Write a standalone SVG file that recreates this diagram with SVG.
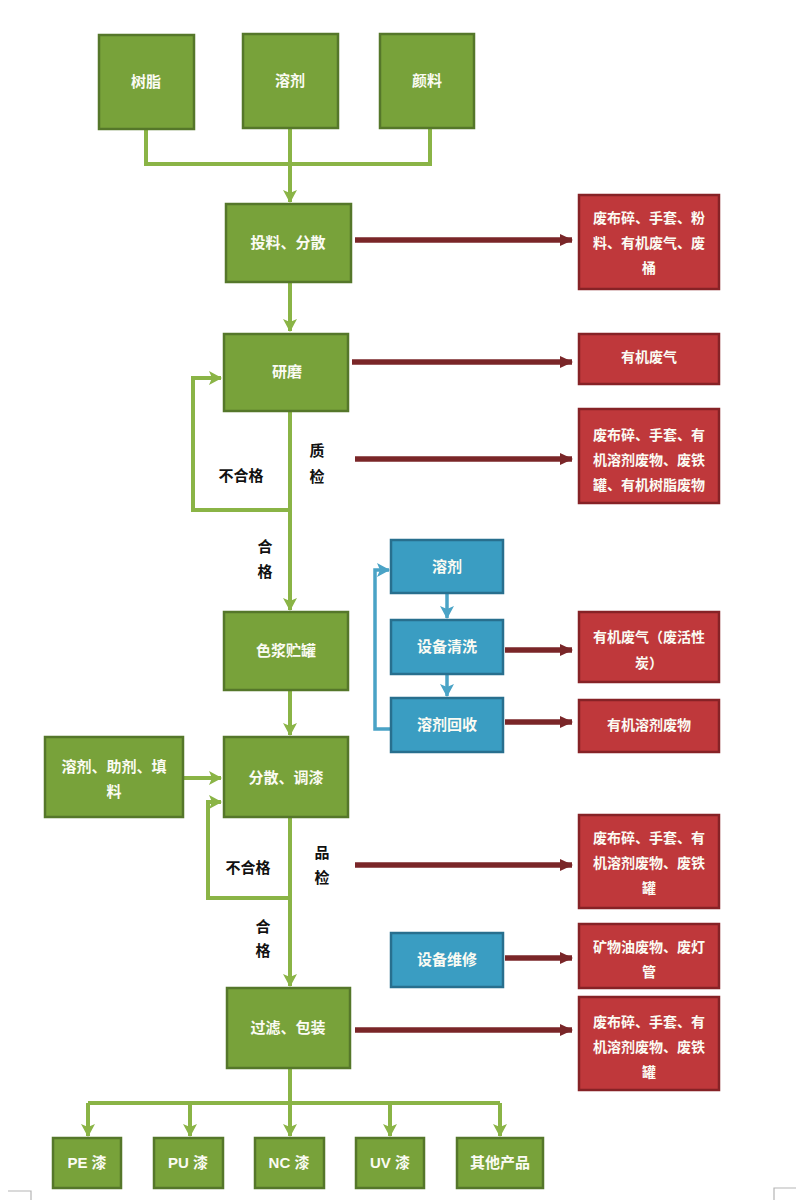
<svg xmlns="http://www.w3.org/2000/svg" width="796" height="1200" viewBox="0 0 796 1200">
<defs>
<style>
.g{fill:#78a23a;stroke:#55772a;stroke-width:2.5}
.r{fill:#bf383b;stroke:#862226;stroke-width:2.5}
.b{fill:#3a9dc2;stroke:#286f8e;stroke-width:2.5}
.t{font-family:"Liberation Sans","Noto Sans CJK SC",sans-serif;font-weight:bold;fill:#fbfbf3;text-anchor:middle}
.tg{font-size:15px}
.tr{font-size:14px}
.lbl{font-family:"Liberation Sans","Noto Sans CJK SC",sans-serif;font-weight:bold;font-size:15px;fill:#111}
.cg{fill:none;stroke:#8ab446;stroke-width:4}
.cb{fill:none;stroke:#4aa3c6;stroke-width:3.5}
.cr{fill:none;stroke:#7a2628;stroke-width:5.5}
</style>
<marker id="ag" markerUnits="userSpaceOnUse" markerWidth="16" markerHeight="16" refX="12" refY="7" orient="auto">
<path d="M0,0 L13,7 L0,14 L3,7 Z" fill="#8ab446"/>
</marker>
<marker id="ab" markerUnits="userSpaceOnUse" markerWidth="16" markerHeight="16" refX="12" refY="7" orient="auto">
<path d="M0,0 L13,7 L0,14 L3,7 Z" fill="#4aa3c6"/>
</marker>
<marker id="ar" markerUnits="userSpaceOnUse" markerWidth="16" markerHeight="16" refX="12" refY="7" orient="auto">
<path d="M0,1 L13,7 L0,13 Z" fill="#7a2628"/>
</marker>
</defs>
<rect width="796" height="1200" fill="#ffffff"/>

<g id="connectors">
<path class="cg" d="M146,129 V164 H430 V128"/>
<path class="cg" d="M290,128 V202" marker-end="url(#ag)"/>
<path class="cg" d="M290,282 V331" marker-end="url(#ag)"/>
<path class="cg" d="M290,411 V610" marker-end="url(#ag)"/>
<path class="cg" d="M290,510 H193 V378 H221" marker-end="url(#ag)"/>
<path class="cg" d="M290,690 V735" marker-end="url(#ag)"/>
<path class="cg" d="M183,778 H221" marker-end="url(#ag)"/>
<path class="cg" d="M290,817 V986" marker-end="url(#ag)"/>
<path class="cg" d="M290,898 H208 V802 H221" marker-end="url(#ag)"/>
<path class="cg" d="M290,1068 V1103 M88,1103 H500"/>
<path class="cg" d="M88,1103 V1136" marker-end="url(#ag)"/>
<path class="cg" d="M190,1103 V1136" marker-end="url(#ag)"/>
<path class="cg" d="M290,1103 V1136" marker-end="url(#ag)"/>
<path class="cg" d="M390,1103 V1136" marker-end="url(#ag)"/>
<path class="cg" d="M500,1103 V1136" marker-end="url(#ag)"/>
<path class="cb" d="M447,593 V618" marker-end="url(#ab)"/>
<path class="cb" d="M447,674 V696" marker-end="url(#ab)"/>
<path class="cb" d="M391,729 H375 V570 H389" marker-end="url(#ab)"/>
<path class="cr" d="M355,240 H572" marker-end="url(#ar)"/>
<path class="cr" d="M352,362 H572" marker-end="url(#ar)"/>
<path class="cr" d="M355,459 H572" marker-end="url(#ar)"/>
<path class="cr" d="M505,650 H572" marker-end="url(#ar)"/>
<path class="cr" d="M505,722 H572" marker-end="url(#ar)"/>
<path class="cr" d="M355,865 H572" marker-end="url(#ar)"/>
<path class="cr" d="M505,958 H572" marker-end="url(#ar)"/>
<path class="cr" d="M355,1030 H572" marker-end="url(#ar)"/>
</g>

<g id="labels">
<text class="lbl" x="241" y="481" text-anchor="middle">不合格</text>
<text class="lbl" x="317" y="456" text-anchor="middle">质</text>
<text class="lbl" x="317" y="482" text-anchor="middle">检</text>
<text class="lbl" x="265" y="552" text-anchor="middle">合</text>
<text class="lbl" x="265" y="577" text-anchor="middle">格</text>
<text class="lbl" x="248" y="873" text-anchor="middle">不合格</text>
<text class="lbl" x="322" y="858" text-anchor="middle">品</text>
<text class="lbl" x="322" y="883" text-anchor="middle">检</text>
<text class="lbl" x="263" y="932" text-anchor="middle">合</text>
<text class="lbl" x="263" y="956" text-anchor="middle">格</text>
</g>

<g id="n-shuzhi"><rect class="g" x="99" y="35" width="95" height="94"/><text class="t tg" x="146" y="87">树脂</text></g>
<g id="n-rongji"><rect class="g" x="243" y="34" width="95" height="94"/><text class="t tg" x="290" y="86">溶剂</text></g>
<g id="n-yanliao"><rect class="g" x="380" y="34" width="94" height="94"/><text class="t tg" x="427" y="86">颜料</text></g>
<g id="n-touliao"><rect class="g" x="226" y="204" width="125" height="78"/><text class="t tg" x="288" y="248">投料、分散</text></g>
<g id="n-yanmo"><rect class="g" x="224" y="334" width="124" height="77"/><text class="t tg" x="287" y="377">研磨</text></g>
<g id="n-sejiang"><rect class="g" x="224" y="612" width="124" height="78"/><text class="t tg" x="286" y="656">色浆贮罐</text></g>
<g id="n-fuji"><rect class="g" x="45" y="737" width="138" height="80"/><text class="t tg" x="114" y="772">溶剂、助剂、填</text><text class="t tg" x="114" y="797">料</text></g>
<g id="n-tiaoqi"><rect class="g" x="224" y="737" width="124" height="80"/><text class="t tg" x="286" y="783">分散、调漆</text></g>
<g id="n-guolv"><rect class="g" x="227" y="988" width="123" height="80"/><text class="t tg" x="288" y="1033">过滤、包装</text></g>
<g id="n-pe"><rect class="g" x="53" y="1138" width="68" height="50"/><text class="t tg" x="87" y="1168">PE 漆</text></g>
<g id="n-pu"><rect class="g" x="154" y="1138" width="69" height="50"/><text class="t tg" x="188" y="1168">PU 漆</text></g>
<g id="n-nc"><rect class="g" x="255" y="1138" width="69" height="50"/><text class="t tg" x="289" y="1168">NC 漆</text></g>
<g id="n-uv"><rect class="g" x="356" y="1138" width="68" height="50"/><text class="t tg" x="390" y="1168">UV 漆</text></g>
<g id="n-other"><rect class="g" x="457" y="1138" width="86" height="50"/><text class="t tg" x="500" y="1168">其他产品</text></g>

<g id="n-b-rongji"><rect class="b" x="391" y="540" width="112" height="53"/><text class="t tg" x="447" y="572">溶剂</text></g>
<g id="n-b-qingxi"><rect class="b" x="391" y="620" width="112" height="54"/><text class="t tg" x="447" y="652">设备清洗</text></g>
<g id="n-b-huishou"><rect class="b" x="391" y="698" width="112" height="54"/><text class="t tg" x="447" y="730">溶剂回收</text></g>
<g id="n-b-weixiu"><rect class="b" x="391" y="933" width="112" height="54"/><text class="t tg" x="447" y="965">设备维修</text></g>

<g id="n-r1"><rect class="r" x="579" y="195" width="140" height="94"/><text class="t tr" x="649" y="223">废布碎、手套、粉</text><text class="t tr" x="649" y="248">料、有机废气、废</text><text class="t tr" x="649" y="273">桶</text></g>
<g id="n-r2"><rect class="r" x="579" y="334" width="140" height="50"/><text class="t tr" x="649" y="362">有机废气</text></g>
<g id="n-r3"><rect class="r" x="579" y="409" width="140" height="94"/><text class="t tr" x="649" y="440">废布碎、手套、有</text><text class="t tr" x="649" y="465">机溶剂废物、废铁</text><text class="t tr" x="649" y="490">罐、有机树脂废物</text></g>
<g id="n-r4"><rect class="r" x="579" y="612" width="140" height="70"/><text class="t tr" x="649" y="642">有机废气（废活性</text><text class="t tr" x="649" y="668">炭）</text></g>
<g id="n-r5"><rect class="r" x="579" y="700" width="140" height="52"/><text class="t tr" x="649" y="730">有机溶剂废物</text></g>
<g id="n-r6"><rect class="r" x="579" y="815" width="140" height="93"/><text class="t tr" x="649" y="843">废布碎、手套、有</text><text class="t tr" x="649" y="868">机溶剂废物、废铁</text><text class="t tr" x="649" y="893">罐</text></g>
<g id="n-r7"><rect class="r" x="579" y="924" width="140" height="64"/><text class="t tr" x="649" y="952">矿物油废物、废灯</text><text class="t tr" x="649" y="977">管</text></g>
<g id="n-r8"><rect class="r" x="579" y="997" width="140" height="93"/><text class="t tr" x="649" y="1027">废布碎、手套、有</text><text class="t tr" x="649" y="1052">机溶剂废物、废铁</text><text class="t tr" x="649" y="1077">罐</text></g>

<path d="M8,1191 H31 V1200 M774,1200 V1188 H796" fill="none" stroke="#b5b5b5" stroke-width="1.2"/>
</svg>
